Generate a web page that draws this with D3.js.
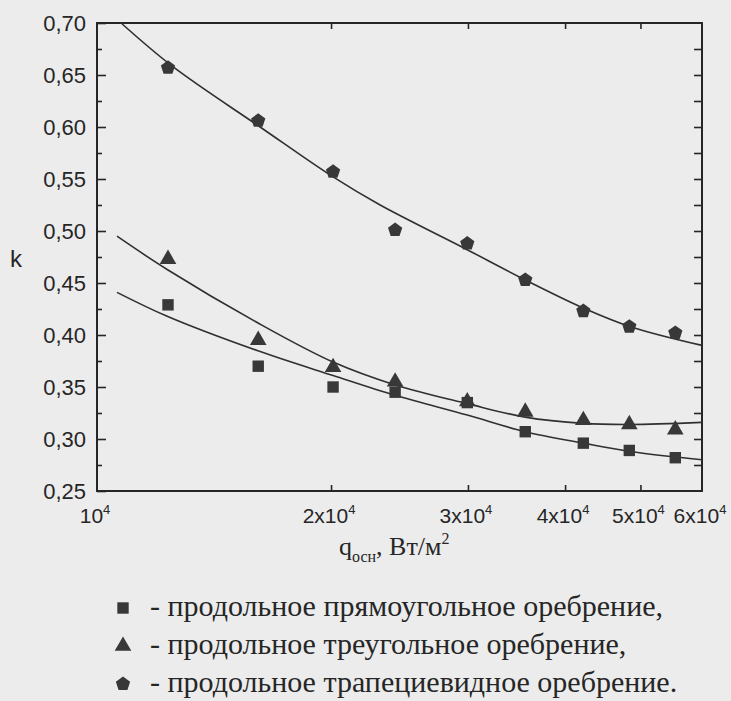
<!DOCTYPE html>
<html>
<head>
<meta charset="utf-8">
<script src="https://cdn.jsdelivr.net/npm/d3@7"></script>
<style>
  body { margin: 0; background: #ececec; }
  svg { display: block; }
</style>
</head>
<body>
<script>
// measured heat flux points, W/m2 (same for all three fin types)
const qPoints = [12340, 16120, 20120, 24180, 29940, 35550, 42220, 48380, 55440];
const kRect = [0.429, 0.370, 0.350, 0.345, 0.335, 0.307, 0.296, 0.289, 0.282];
const kTri = [0.473, 0.395, 0.369, 0.355, 0.336, 0.326, 0.318, 0.314, 0.309];
const kTrap = [0.657, 0.606, 0.557, 0.501, 0.488, 0.453, 0.423, 0.408, 0.402];

// fitted curves
const fitQ = [10610, 12310, 16070, 20120, 24180, 29940, 35550, 42220, 48530, 60000];
const fitRect = [0.441, 0.418, 0.385, 0.361, 0.342, 0.323, 0.307, 0.296, 0.288, 0.280];
const fitTri = [0.495, 0.463, 0.412, 0.374, 0.352, 0.334, 0.321, 0.315, 0.314, 0.316];
const fitTrapQ = [10740, 12520, 16210, 20120, 23130, 29760, 35550, 42220, 48530, 60000];
const fitTrap = [0.700, 0.658, 0.600, 0.552, 0.525, 0.483, 0.453, 0.426, 0.408, 0.390];

const yTicks = [0.25, 0.30, 0.35, 0.40, 0.45, 0.50, 0.55, 0.60, 0.65, 0.70];
const yMinor = [0.275, 0.325, 0.375, 0.425, 0.475, 0.525, 0.575, 0.625, 0.675];
const xTicks = [1e4, 2e4, 3e4, 4e4, 5e4, 6e4];
const xMant = ["", "2x", "3x", "4x", "5x", "6x"];

const legendLabels = [
  "- продольное прямоугольное оребрение,",
  "- продольное треугольное оребрение,",
  "- продольное трапециевидное оребрение."
];

const width = 731, height = 701;
const margin = {top: 23, right: 29, bottom: 210, left: 97};
const ink = "#262626";

const svg = d3.select("body").append("svg")
    .attr("width", width)
    .attr("height", height);

const x = d3.scaleLog()
    .domain([1e4, 6e4])
    .range([margin.left, width - margin.right]);

const y = d3.scaleLinear()
    .domain([0.25, 0.70])
    .range([height - margin.bottom, margin.top]);

const sans = "'Liberation Sans', Arial, sans-serif";
const serif = "'Liberation Serif', 'Times New Roman', serif";

function styleAxis(g) {
  g.select(".domain").remove();
  g.selectAll("line").attr("stroke", ink).attr("stroke-width", 1.6);
  g.selectAll("text").attr("fill", ink).attr("font-family", sans).attr("font-size", 22);
}

// left axis with labels, ticks pointing inward
svg.append("g")
    .attr("transform", `translate(${margin.left},0)`)
    .call(d3.axisLeft(y).tickValues(yTicks).tickSize(-9).tickPadding(11)
      .tickFormat(d => d3.format(".2f")(d).replace(".", ",")))
    .call(styleAxis);

svg.append("g")
    .attr("transform", `translate(${margin.left},0)`)
    .call(d3.axisLeft(y).tickValues(yMinor).tickSize(-5).tickFormat(""))
    .call(styleAxis);

// right axis
svg.append("g")
    .attr("transform", `translate(${width - margin.right},0)`)
    .call(d3.axisRight(y).tickValues(yMinor.concat(yTicks.slice(1, -1))).tickSize(-8).tickFormat(""))
    .call(styleAxis);

// bottom and top axes
svg.append("g")
    .attr("transform", `translate(0,${height - margin.bottom})`)
    .call(d3.axisBottom(x).tickValues(xTicks.slice(1, -1)).tickSize(-6).tickFormat(""))
    .call(styleAxis);

svg.append("g")
    .attr("transform", `translate(0,${margin.top})`)
    .call(d3.axisTop(x).tickValues(xTicks.slice(1, -1)).tickSize(-6).tickFormat(""))
    .call(styleAxis);

// frame
svg.append("rect")
    .attr("x", margin.left)
    .attr("y", margin.top)
    .attr("width", width - margin.left - margin.right)
    .attr("height", height - margin.top - margin.bottom)
    .attr("fill", "none")
    .attr("stroke", ink)
    .attr("stroke-width", 2);

// x tick labels with superscript
const xl = svg.append("g")
    .attr("font-family", sans)
    .attr("fill", ink)
    .selectAll("text")
    .data(xTicks)
    .join("text")
    .attr("x", d => x(d) - 2)
    .attr("y", height - margin.bottom + 32)
    .attr("text-anchor", "middle")
    .attr("font-size", 21);
xl.append("tspan").text((d, i) => xMant[i] + "10");
xl.append("tspan").attr("dy", -9).attr("font-size", 13).text("4");

// axis titles
svg.append("text")
    .attr("x", 10)
    .attr("y", 267)
    .attr("font-family", sans)
    .attr("font-size", 24)
    .attr("fill", ink)
    .text("k");

const xt = svg.append("text")
    .attr("x", 339)
    .attr("y", 555)
    .attr("font-family", serif)
    .attr("font-size", 26)
    .attr("fill", ink);
xt.append("tspan").text("q");
xt.append("tspan").attr("dy", 7).attr("font-size", 16).text("осн");
xt.append("tspan").attr("dy", -7).text(", Вт/м");
xt.append("tspan").attr("dy", -11).attr("font-size", 16).text("2");

// fitted curves
const line = d3.line()
    .x(d => x(d[0]))
    .y(d => y(d[1]))
    .curve(d3.curveCatmullRom.alpha(0.5));

const curves = [
  d3.zip(fitQ, fitRect),
  d3.zip(fitQ, fitTri),
  d3.zip(fitTrapQ, fitTrap)
];

svg.append("g")
    .selectAll("path")
    .data(curves)
    .join("path")
    .attr("fill", "none")
    .attr("stroke", "#303030")
    .attr("stroke-width", 1.6)
    .attr("d", line);

// markers
function pentagon(r) {
  const pts = d3.range(5).map(i => {
    const a = -Math.PI / 2 + i * 2 * Math.PI / 5;
    return [r * Math.cos(a), r * Math.sin(a)];
  });
  return "M" + pts.join("L") + "Z";
}
const shapes = [
  d3.symbol(d3.symbolSquare, 130)(),
  d3.symbol(d3.symbolTriangle, 120)(),
  pentagon(7.5)
];

const series = [kRect, kTri, kTrap];
series.forEach((ks, si) => {
  svg.append("g")
      .selectAll("path")
      .data(d3.zip(qPoints, ks))
      .join("path")
      .attr("transform", d => `translate(${x(d[0])},${y(d[1])})`)
      .attr("d", shapes[si])
      .attr("fill", "#383838");
});

// legend
const legend = svg.append("g")
    .selectAll("g")
    .data(legendLabels)
    .join("g")
    .attr("transform", (d, i) => `translate(0,${616 + i * 38})`);

legend.append("path")
    .attr("transform", "translate(123,-8)")
    .attr("d", (d, i) => shapes[i])
    .attr("fill", "#383838");

legend.append("text")
    .attr("x", 150)
    .attr("font-family", serif)
    .attr("font-size", 30)
    .attr("fill", ink)
    .text(d => d);
</script>
</body>
</html>
